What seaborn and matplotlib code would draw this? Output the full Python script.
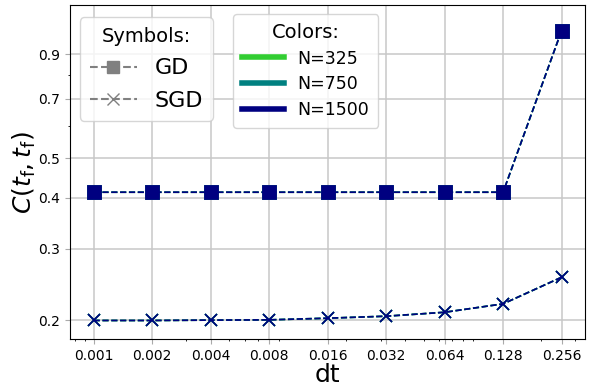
import numpy as np
import pandas as pd
import seaborn as sns
import matplotlib
matplotlib.use('Agg')
from matplotlib import pyplot as plt
from matplotlib.lines import Line2D
from matplotlib import ticker

# values
dt = [0.001, 0.002, 0.004, 0.008, 0.016, 0.032, 0.064, 0.128, 0.256]
dt_labels = ['0.001', '0.002', '0.004', '0.008', '0.016', '0.032', '0.064', '0.128', '0.256']
sizes = [325, 750, 1500]
colors = ['limegreen', 'teal', 'navy']

gd_c = [0.413, 0.413, 0.413, 0.413, 0.413, 0.413, 0.413, 0.413, 1.03]
sgd_c = [0.200, 0.200, 0.2004, 0.2007, 0.2026, 0.2049, 0.2095, 0.2197, 0.2554]

y_ticks = [0.2, 0.3, 0.4, 0.5, 0.7, 0.9]

rows = []
for n in sizes:
    for x, g, s in zip(dt, gd_c, sgd_c):
        rows.append({'dt': x, 'C': g, 'N': n, 'method': 'GD'})
        rows.append({'dt': x, 'C': s, 'N': n, 'method': 'SGD'})
df = pd.DataFrame(rows)

fig, ax = plt.subplots(figsize=(6, 3.88), dpi=100)
fig.subplots_adjust(left=0.117, right=0.975, bottom=0.126, top=0.987)

for n, c in zip(sizes, colors):
    sub = df[df.N == n]
    sns.lineplot(data=sub[sub.method == 'GD'], x='dt', y='C', color=c,
                 marker='s', markersize=9.5, markeredgecolor=c, markeredgewidth=0.5,
                 linestyle='--', linewidth=1.2, ax=ax)
    sns.lineplot(data=sub[sub.method == 'SGD'], x='dt', y='C', color=c,
                 marker='x', markersize=9, markeredgecolor=c, markeredgewidth=1.2,
                 linestyle='--', linewidth=1.2, ax=ax)

ax.set_xscale('log')
ax.set_yscale('log')
ax.set_ylim(0.18, 1.19)

ax.xaxis.set_major_locator(ticker.FixedLocator(dt))
ax.xaxis.set_major_formatter(ticker.FixedFormatter(dt_labels))
ax.xaxis.set_minor_formatter(ticker.NullFormatter())
ax.yaxis.set_major_locator(ticker.FixedLocator(y_ticks))
ax.yaxis.set_major_formatter(ticker.FixedFormatter([str(v) for v in y_ticks]))
ax.yaxis.set_minor_formatter(ticker.NullFormatter())

ax.tick_params(which='major', labelsize=10, color='#aaaaaa', length=3.5)
ax.tick_params(which='minor', length=1.5)
ax.grid(True, which='major', color='#c8c8c8', linewidth=1.1)
ax.set_axisbelow(True)

ax.set_xlabel('dt', fontsize=18, labelpad=0)
ax.set_ylabel(r'$C(t_\mathrm{f}, t_\mathrm{f})$', fontsize=18, labelpad=0)

sym_handles = [
    Line2D([], [], color='gray', linestyle='--', marker='s', markersize=9, label='GD'),
    Line2D([], [], color='gray', linestyle='--', marker='x', markersize=9, label='SGD'),
]
leg1 = ax.legend(handles=sym_handles, title='Symbols:', fontsize=16, title_fontsize=14,
                 loc='upper left', bbox_to_anchor=(0.019, 0.964), borderaxespad=0,
                 handlelength=2.1, labelspacing=0.55, borderpad=0.45)
ax.add_artist(leg1)

col_handles = [Line2D([], [], color=c, linewidth=4, label='N=%d' % n)
               for n, c in zip(sizes, colors)]
ax.legend(handles=col_handles, title='Colors:', fontsize=12.5, title_fontsize=14,
          loc='upper left', bbox_to_anchor=(0.317, 0.973), borderaxespad=0,
          handlelength=2.4, labelspacing=0.45, borderpad=0.5)

plt.savefig('out.png', dpi=100)
